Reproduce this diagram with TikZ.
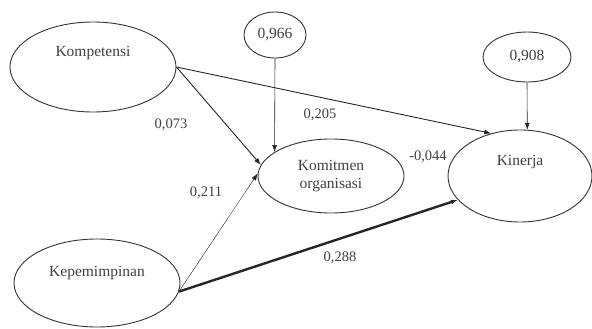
\documentclass[tikz,border=0pt]{standalone}
\usepackage{fontspec}
\setmainfont{Liberation Serif}
\usepackage{tikz}
\usetikzlibrary{shapes.geometric}
\usetikzlibrary{arrows.meta}

\begin{document}
\begin{tikzpicture} [
    x=1pt, y=-1pt,
    every node/.style = {font=\fontsize{15.5}{18}\selectfont, text=black!75},
    latent/.style = {draw=black!80, line width=0.9pt, ellipse, inner sep=0pt},
    resid/.style = {draw=black!80, line width=0.9pt, ellipse, inner sep=0pt},
    path/.style = {-{Latex[length=7pt, width=5pt]}, black!85},
    coef/.style = {font=\fontsize{14.5}{17}\selectfont}
    ]
    \useasboundingbox (0,0) rectangle (592,329);

    \node[latent, minimum width=166pt, minimum height=90pt,
          label={[yshift=14pt]center:Kompetensi}] (komp) at (93,67) {};
    \node[latent, minimum width=166pt, minimum height=88pt,
          label={[yshift=10pt]center:Kepemimpinan}] (kep) at (97,283) {};
    \node[latent, minimum width=146pt, minimum height=74pt,
          align=center] (kom) at (331,176) {Komitmen\\organisasi};
    \node[latent, minimum width=144pt, minimum height=92pt,
          label={[yshift=14pt]center:Kinerja}] (kin) at (520,176) {};
    \node[resid, minimum width=62pt, minimum height=46pt] (e1) at (275,35) {0,966};
    \node[resid, minimum width=88pt, minimum height=50pt] (e2) at (527,57) {0,908};

    \draw[path, line width=0.9pt] (komp.east) -- (kom.171);
    \draw[path, line width=0.9pt] (komp.east) -- (kin.124);
    \draw[path, line width=0.6pt] (e1.south) -- (kom.157);
    \draw[path, line width=0.6pt] (e2.south) -- (kin.81);
    \draw[path, line width=0.4pt] (kep.354) -- (kom.178);
    \draw[path, line width=2.4pt] (kep.354) -- (kin.201);

    \node[coef] (c1) at (171,125) {0,073};
    \node[coef] (c2) at (320,115) {0,205};
    \node[coef] (c3) at (428,157) {-0,044};
    \node[coef] (c4) at (206,193) {0,211};
    \node[coef] (c5) at (340,258) {0,288};
  \end{tikzpicture}
\end{document}
